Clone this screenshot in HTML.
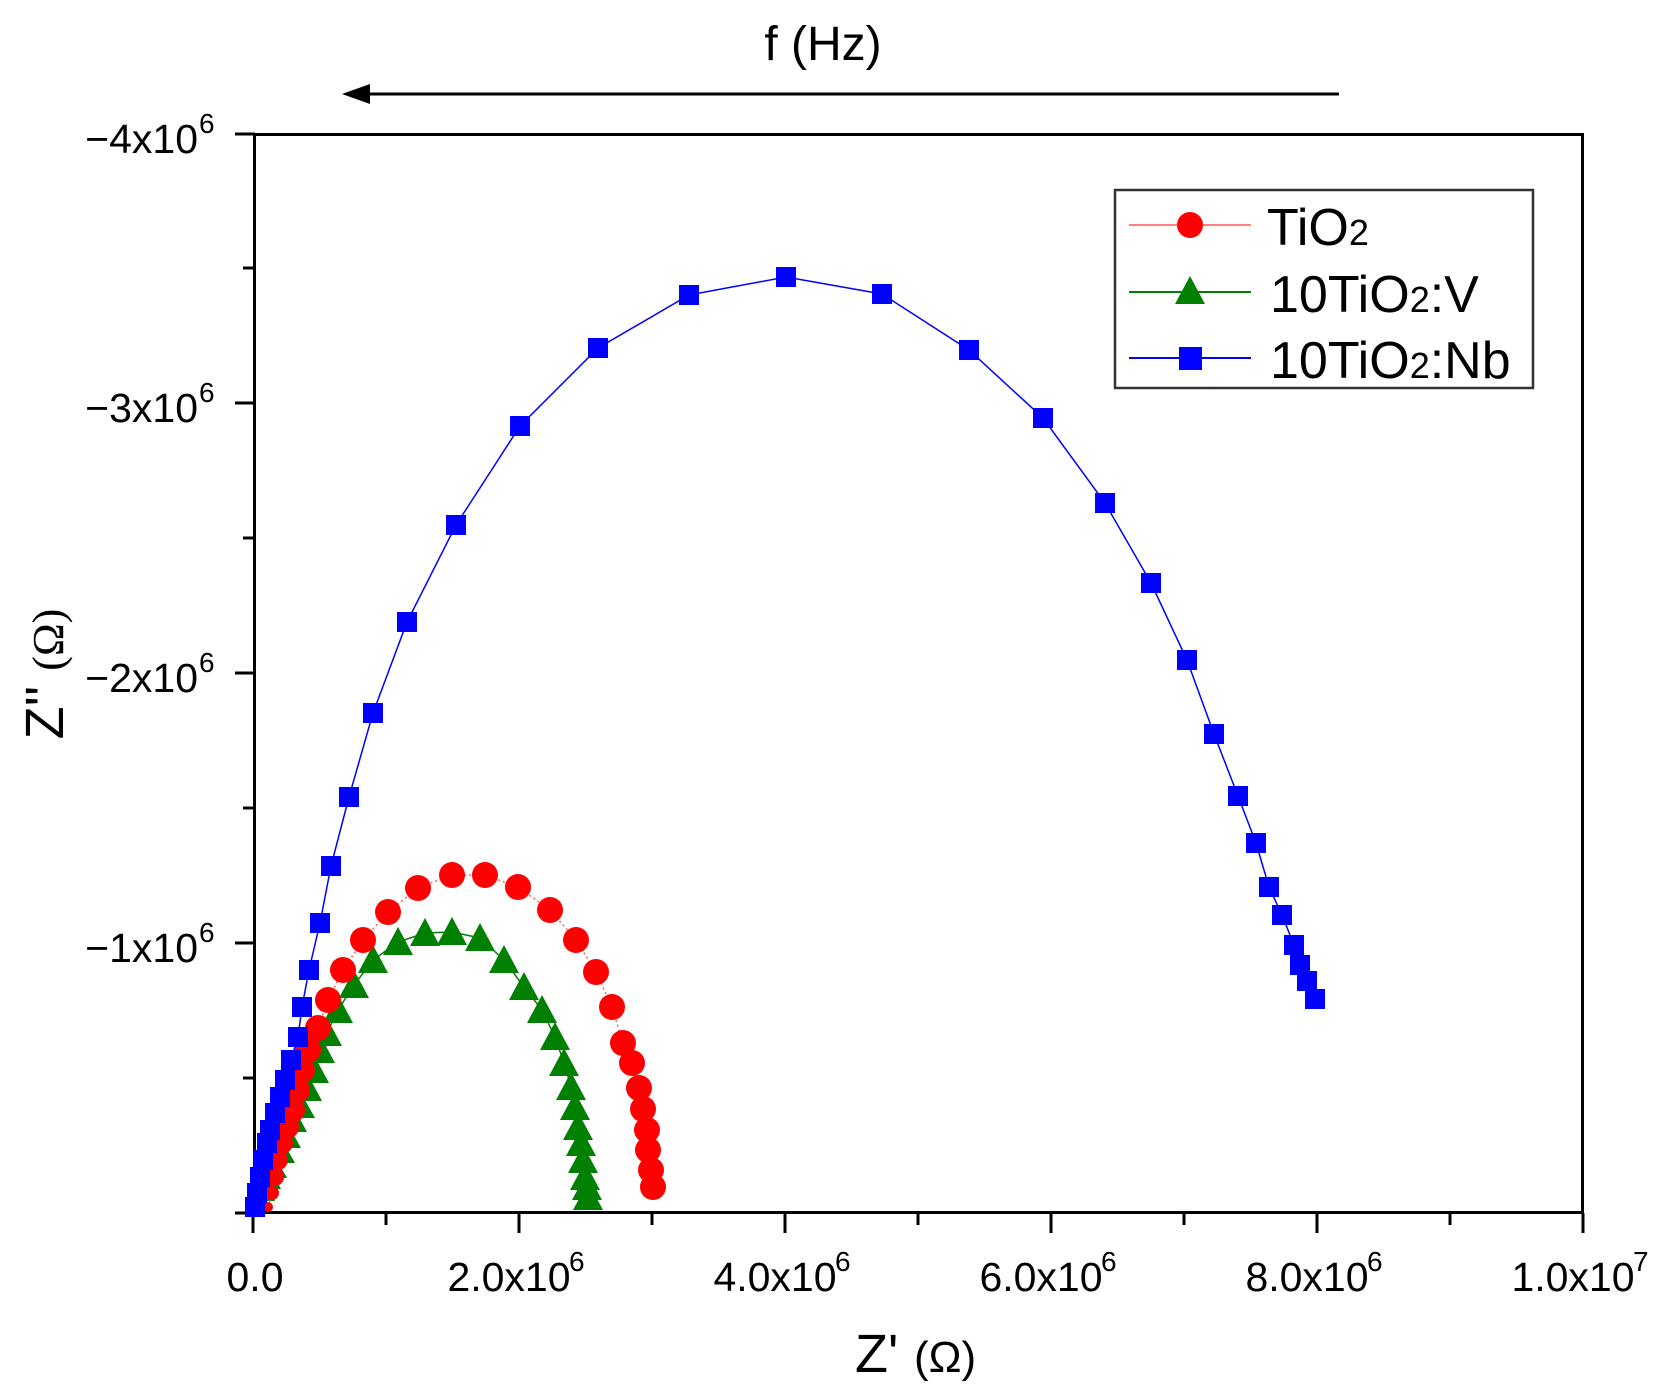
<!DOCTYPE html>
<html><head><meta charset="utf-8"><style>
html,body{margin:0;padding:0;background:#fff}
svg{display:block}
text{font-family:"Liberation Sans",Arial,sans-serif;fill:#000}
</style></head><body>
<svg width="1672" height="1396" viewBox="0 0 1672 1396" xmlns="http://www.w3.org/2000/svg">
<text x="823" y="60" font-size="48" text-anchor="middle">f (Hz)</text>
<line x1="358" y1="94" x2="1339" y2="94" stroke="#000" stroke-width="3"/>
<polygon points="342,94 370,84 370,104" fill="#000"/>

<g stroke="#000" stroke-width="3">
<line x1="253" y1="1213" x2="253" y2="1233"/><line x1="386" y1="1213" x2="386" y2="1225"/>
<line x1="519" y1="1213" x2="519" y2="1233"/><line x1="652" y1="1213" x2="652" y2="1225"/>
<line x1="785" y1="1213" x2="785" y2="1233"/><line x1="918" y1="1213" x2="918" y2="1225"/>
<line x1="1051" y1="1213" x2="1051" y2="1233"/><line x1="1184" y1="1213" x2="1184" y2="1225"/>
<line x1="1317" y1="1213" x2="1317" y2="1233"/><line x1="1450" y1="1213" x2="1450" y2="1225"/>
<line x1="1583" y1="1213" x2="1583" y2="1233"/>
<line x1="235" y1="1213" x2="255" y2="1213"/><line x1="243" y1="1078" x2="255" y2="1078"/>
<line x1="235" y1="943" x2="255" y2="943"/><line x1="243" y1="808" x2="255" y2="808"/>
<line x1="235" y1="673" x2="255" y2="673"/><line x1="243" y1="538" x2="255" y2="538"/>
<line x1="235" y1="403" x2="255" y2="403"/><line x1="243" y1="268" x2="255" y2="268"/>
<line x1="235" y1="134" x2="255" y2="134"/>
</g>
<rect x="254.5" y="134.5" width="1328" height="1078" fill="none" stroke="#000" stroke-width="3"/>

<g font-size="41" text-anchor="end">
<text x="198" y="153">−4x10</text><text x="198" y="422">−3x10</text>
<text x="198" y="692">−2x10</text><text x="198" y="962">−1x10</text>
</g>
<g font-size="28">
<text x="199" y="133">6</text><text x="199" y="402">6</text>
<text x="199" y="672">6</text><text x="199" y="942">6</text>
</g>
<g font-size="41" text-anchor="middle">
<text x="255" y="1291">0.0</text>
<text x="509" y="1291">2.0x10</text><text x="775" y="1291">4.0x10</text>
<text x="1041" y="1291">6.0x10</text><text x="1307" y="1291">8.0x10</text>
<text x="1573" y="1291">1.0x10</text>
</g>
<g font-size="28">
<text x="569" y="1271">6</text><text x="835" y="1271">6</text><text x="1101" y="1271">6</text>
<text x="1367" y="1271">6</text><text x="1633" y="1271">7</text>
</g>
<text x="855" y="1372" font-size="54">Z'</text>
<text x="914" y="1372" font-size="44" font-family="Liberation Serif,serif">(Ω)</text>
<g transform="translate(63,674) rotate(-90)">
<text x="0" y="0" font-size="54" text-anchor="middle">Z'' <tspan font-size="44" font-family="Liberation Serif,serif">(Ω)</tspan></text>
</g>

<g fill="#008000" stroke="none">
<polyline fill="none" stroke="#008000" stroke-width="1.5" points="268,1197 272,1183 276,1170 282,1153 287,1137 293,1120 300,1105 307,1088 314,1070 320,1050 327,1033 338,1010 354,985 373,960 398,942 425,933 452,932 480,938 504,960 524,987 542,1010 555,1037 564,1063 571,1087 575,1107 578,1127 581,1143 583,1160 585,1177 587,1187 588,1197"/>
<path d="M268,1187l-7,14h14zM272,1172l-9,17h18zM276,1158l-11,20h22zM282,1140l-13,23h26zM287,1123l-14,25h28zM293,1106l-14,26h28zM300,1091l-15,27h30zM307,1073l-15,28h30zM314,1055l-15,28h30zM320,1035l-15,28h30zM327,1018l-15,28h30zM338,995l-15,28h30zM354,970l-15,28h30zM373,945l-15,28h30zM398,927l-15,28h30zM425,918l-15,28h30zM452,917l-15,28h30zM480,923l-15,28h30zM504,945l-15,28h30zM524,972l-15,28h30zM542,995l-15,28h30zM555,1022l-15,28h30zM564,1048l-15,28h30zM571,1072l-15,28h30zM575,1092l-15,28h30zM578,1112l-15,28h30zM581,1128l-15,28h30zM583,1145l-15,28h30zM585,1162l-15,28h30zM587,1172l-15,28h30zM588,1182l-15,28h30z"/>
</g>

<g fill="#ff0000">
<polyline fill="none" stroke="#ff6060" stroke-width="1.5" stroke-dasharray="2,3" points="268,1207 272,1193 275,1177 278,1160 282,1143 287,1127 292,1110 297,1090 302,1070 308,1050 318,1028 328,1000 343,970 363,940 388,912 418,888 452,875 485,875 518,887 550,910 576,940 596,972 612,1007 623,1043 632,1063 639,1088 643,1109 647,1130 648,1150 651,1170 653,1187"/>
<circle cx="268" cy="1207" r="5"/><circle cx="272" cy="1193" r="7"/><circle cx="275" cy="1177" r="9"/>
<circle cx="278" cy="1160" r="10"/><circle cx="282" cy="1143" r="11"/><circle cx="287" cy="1127" r="12"/>
<circle cx="292" cy="1110" r="13"/><circle cx="297" cy="1090" r="13"/><circle cx="302" cy="1070" r="13"/>
<circle cx="308" cy="1050" r="13"/><circle cx="318" cy="1028" r="13"/><circle cx="328" cy="1000" r="13"/>
<circle cx="343" cy="970" r="13"/><circle cx="363" cy="940" r="13"/><circle cx="388" cy="912" r="13"/>
<circle cx="418" cy="888" r="13"/><circle cx="452" cy="875" r="13"/><circle cx="485" cy="875" r="13"/>
<circle cx="518" cy="887" r="13"/><circle cx="550" cy="910" r="13"/><circle cx="576" cy="940" r="13"/>
<circle cx="596" cy="972" r="13"/><circle cx="612" cy="1007" r="13"/><circle cx="623" cy="1043" r="13"/>
<circle cx="632" cy="1063" r="13"/><circle cx="639" cy="1088" r="13"/><circle cx="643" cy="1109" r="13"/>
<circle cx="647" cy="1130" r="13"/><circle cx="648" cy="1150" r="13"/><circle cx="651" cy="1170" r="13"/>
<circle cx="653" cy="1187" r="13"/>
</g>

<g fill="#0000ff">
<polyline fill="none" stroke="#0000ff" stroke-width="1.5" points="255,1207 257,1193 260,1177 263,1160 267,1143 270,1130 275,1113 280,1097 285,1080 291,1060 298,1037 302,1007 309,970 320,923 331,866 349,797 373,713 407,622 456,525 520,426 598,348 689,295 786,277 882,294 969,350 1043,418 1105,503 1151,583 1187,660 1214,734 1238,796 1256,843 1269,887 1282,915 1294,945 1300,965 1307,981 1315,999"/>
<path d="M245,1197h20v20h-20zM247,1183h20v20h-20zM250,1167h20v20h-20zM253,1150h20v20h-20zM257,1133h20v20h-20zM260,1120h20v20h-20zM265,1103h20v20h-20zM270,1087h20v20h-20zM275,1070h20v20h-20zM281,1050h20v20h-20zM288,1027h20v20h-20zM292,997h20v20h-20zM299,960h20v20h-20zM310,913h20v20h-20zM321,856h20v20h-20zM339,787h20v20h-20zM363,703h20v20h-20zM397,612h20v20h-20zM446,515h20v20h-20zM510,416h20v20h-20zM588,338h20v20h-20zM679,285h20v20h-20zM776,267h20v20h-20zM872,284h20v20h-20zM959,340h20v20h-20zM1033,408h20v20h-20zM1095,493h20v20h-20zM1141,573h20v20h-20zM1177,650h20v20h-20zM1204,724h20v20h-20zM1228,786h20v20h-20zM1246,833h20v20h-20zM1259,877h20v20h-20zM1272,905h20v20h-20zM1284,935h20v20h-20zM1290,955h20v20h-20zM1297,971h20v20h-20zM1305,989h20v20h-20z"/>
</g>

<rect x="1115" y="190" width="418" height="198" fill="#fff" stroke="#333" stroke-width="2.5"/>
<line x1="1129" y1="225" x2="1251" y2="225" stroke="#ff8080" stroke-width="2"/>
<circle cx="1190" cy="225" r="13" fill="#ff0000"/>
<line x1="1129" y1="292" x2="1251" y2="292" stroke="#008000" stroke-width="2"/>
<path d="M1190,276l-15,28h30z" fill="#008000"/>
<line x1="1129" y1="358" x2="1251" y2="358" stroke="#0000ff" stroke-width="2"/>
<rect x="1179" y="347" width="23" height="23" fill="#0000ff"/>
<g font-size="52">
<text x="1267" y="245">TiO<tspan font-size="36">2</tspan></text>
<text x="1270" y="312">10TiO<tspan font-size="36">2</tspan>:V</text>
<text x="1270" y="378">10TiO<tspan font-size="36">2</tspan>:Nb</text>
</g>
</svg>
</body></html>
